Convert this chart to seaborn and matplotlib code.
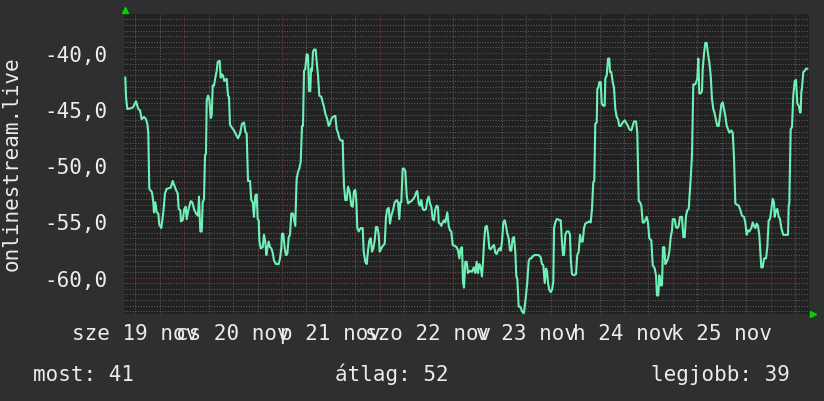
import matplotlib
matplotlib.use("Agg")
import matplotlib.pyplot as plt
import matplotlib.dates as mdates
import matplotlib.ticker as mticker
import matplotlib.transforms as mtransforms
import numpy as np
import pandas as pd
import seaborn as sns

# ---------------- data (hours since start, value) ----------------
start_time = pd.Timestamp("2025-11-19 09:11")
span_hours = 168.27

seg_a = [(0.32, -42.2), (0.49, -43.9), (0.81, -45.0), (1.89, -44.9), (2.28, -44.8),
         (2.95, -44.3), (3.51, -45.0), (3.93, -45.1), (4.35, -45.9), (4.91, -45.7),
         (5.40, -45.9), (5.72, -46.3), (5.97, -47.1), (6.21, -52.1), (6.88, -52.4),
         (7.20, -53.3), (7.37, -54.2), (7.69, -53.3), (8.03, -54.2), (8.43, -54.3),
         (8.67, -55.3), (9.16, -55.6), (9.65, -54.2), (10.07, -52.5), (10.49, -52.1),
         (11.47, -52.0), (11.96, -51.4), (12.36, -51.8), (12.77, -52.2), (13.19, -52.5),
         (13.44, -53.9), (13.83, -54.0), (14.00, -55.0), (14.42, -54.9), (14.81, -53.9),
         (15.16, -53.7), (15.40, -54.8), (15.80, -54.0), (16.38, -53.2), (16.78, -53.3),
         (17.20, -53.9), (17.69, -54.3), (18.18, -54.5), (18.42, -52.8), (18.74, -55.9),
         (19.09, -55.9), (19.33, -53.3), (19.65, -53.0), (19.90, -49.1), (20.14, -49.0),
         (20.32, -44.2), (20.63, -43.8), (20.95, -44.1), (21.30, -45.8), (21.54, -45.6),
         (21.79, -42.9), (22.11, -42.9), (22.43, -42.2), (22.77, -41.6), (23.02, -40.8),
         (23.51, -40.7), (23.75, -42.2), (24.00, -41.9), (24.32, -42.0), (24.64, -42.5),
         (25.23, -42.3), (25.55, -43.8), (25.79, -43.9), (26.04, -46.4), (26.60, -46.7)]

seg_b = [(27.02, -46.9), (27.44, -47.2), (28.00, -47.6), (28.50, -47.2), (28.99, -46.3),
         (29.48, -46.2), (29.80, -47.0), (30.14, -47.2), (30.46, -51.4), (30.95, -51.4),
         (31.27, -53.1), (31.61, -53.3), (31.93, -54.6), (32.25, -52.7), (32.60, -52.6),
         (32.84, -54.8), (33.09, -54.9), (33.24, -56.7), (33.58, -57.4), (34.07, -57.3),
         (34.39, -56.2), (34.71, -56.8), (34.96, -58.0), (35.20, -57.4), (35.55, -56.8),
         (35.86, -57.3), (36.18, -57.4), (36.53, -57.8), (36.85, -58.5), (37.34, -58.8),
         (38.00, -58.8), (38.32, -58.3), (38.64, -57.4), (38.81, -56.1), (39.13, -56.1),
         (39.48, -57.4), (39.80, -58.0), (40.12, -57.9), (40.46, -56.4), (40.78, -56.2),
         (41.10, -54.3), (41.51, -54.3), (41.76, -54.8), (42.08, -55.4), (42.25, -53.0),
         (42.42, -51.2), (42.74, -50.6), (43.06, -50.3), (43.41, -49.7), (43.73, -46.5),
         (43.97, -46.5), (44.22, -41.6), (44.54, -41.4), (44.88, -40.1), (45.20, -40.2),
         (45.45, -43.4), (45.76, -43.4), (45.94, -41.4), (46.18, -41.6), (46.43, -39.9),
         (46.67, -39.7), (47.09, -39.7), (47.34, -40.8), (47.66, -42.0), (47.98, -43.8),
         (48.47, -43.9), (48.81, -44.4), (49.13, -44.8), (49.45, -45.4), (49.94, -45.9),
         (50.28, -46.5), (50.60, -46.3), (50.92, -45.9), (51.27, -45.7), (51.91, -45.6),
         (52.25, -46.8), (52.57, -47.1), (52.89, -47.6), (53.23, -47.8), (53.72, -47.8),
         (53.87, -50.0), (54.04, -51.8), (54.36, -53.1), (54.71, -53.1)]

seg_c = [(55.03, -51.9), (55.44, -52.4), (55.84, -53.6), (56.18, -53.7), (56.50, -52.3),
         (56.82, -52.2), (57.06, -53.1), (57.31, -55.6), (57.65, -55.9), (58.14, -55.6),
         (58.64, -55.6), (58.88, -57.7), (59.28, -58.6), (59.62, -58.8), (59.94, -57.6),
         (60.26, -56.7), (60.60, -56.5), (60.92, -57.7), (61.24, -57.4), (61.58, -56.7),
         (61.90, -55.5), (62.22, -55.5), (62.57, -56.2), (62.81, -57.7), (63.21, -57.4),
         (63.55, -57.2), (64.04, -57.0), (64.36, -54.6), (64.68, -53.9), (65.02, -53.8),
         (65.34, -55.2), (65.66, -54.5), (66.08, -54.0), (66.50, -53.3), (66.99, -53.1),
         (67.31, -53.3), (67.63, -54.8), (67.87, -53.3), (68.12, -53.3), (68.46, -50.3),
         (68.78, -50.3), (69.10, -50.5), (69.45, -52.7), (69.77, -53.4), (70.08, -53.3),
         (70.58, -53.2), (71.07, -53.0), (71.41, -52.8), (71.80, -52.4), (72.05, -52.3),
         (72.39, -53.4), (72.71, -53.6), (73.03, -53.1), (73.38, -53.9), (73.70, -54.0),
         (74.19, -53.9), (74.51, -53.1), (74.85, -52.8), (75.17, -53.4), (75.49, -53.7),
         (75.83, -54.8), (76.15, -54.9), (76.47, -53.9), (76.81, -53.6), (77.13, -53.7),
         (77.31, -55.1), (77.63, -55.2), (77.94, -55.4), (78.29, -55.1), (78.61, -54.9),
         (78.93, -55.1), (79.42, -54.2), (79.76, -55.4), (80.08, -55.8), (80.40, -55.9),
         (80.74, -57.1), (81.24, -57.2), (81.73, -57.3), (82.05, -57.6), (82.37, -58.3),
         (82.71, -57.4), (83.03, -57.3)]

seg_d = [(83.28, -60.4), (83.52, -60.9), (83.84, -58.6), (84.18, -58.6), (84.50, -59.6),
         (84.99, -59.4), (85.49, -59.5), (85.90, -59.1), (86.30, -59.6), (86.64, -58.6),
         (86.96, -59.6), (87.28, -58.8), (87.62, -59.1), (87.94, -59.9), (88.19, -58.6),
         (88.43, -57.0), (88.75, -55.5), (89.10, -55.4), (89.42, -56.1), (89.74, -57.4),
         (90.08, -57.5), (90.40, -57.3), (90.89, -57.1), (91.21, -57.8), (91.55, -57.9),
         (91.87, -57.6), (92.19, -57.4), (92.54, -57.6), (92.86, -56.8), (93.18, -55.1),
         (93.52, -54.9), (93.84, -55.4), (94.16, -56.1), (94.50, -56.5), (94.82, -57.6),
         (95.14, -57.6), (95.48, -56.5), (95.80, -56.4), (96.12, -57.7), (96.37, -59.9),
         (96.61, -60.1), (96.96, -62.6), (97.35, -62.6), (97.77, -63.0), (98.19, -63.2),
         (98.43, -62.6), (98.75, -61.6), (99.07, -60.4), (99.42, -58.5), (99.73, -58.3),
         (100.05, -58.3), (100.40, -58.1), (100.89, -58.0), (101.38, -58.0), (101.87, -58.0),
         (102.36, -58.2), (102.68, -58.8), (103.00, -58.9), (103.35, -60.5), (103.66, -59.2),
         (103.91, -59.4), (104.16, -60.5), (104.48, -61.1), (104.82, -61.3), (105.14, -61.1),
         (105.46, -60.4), (105.63, -55.6), (105.95, -55.1), (106.29, -54.8), (106.61, -54.8),
         (106.93, -54.9), (107.28, -54.9), (107.59, -56.8), (107.84, -58.0), (108.09, -58.0),
         (108.41, -56.2), (108.75, -55.9), (109.24, -55.9), (109.56, -56.2), (109.74, -58.3),
         (110.05, -59.7), (110.54, -59.8), (111.03, -59.7)]

seg_e = [(111.35, -58.0), (111.70, -57.7), (112.02, -56.2), (112.34, -56.8), (112.68, -56.8),
         (113.00, -55.6), (113.32, -55.2), (113.81, -55.1), (114.30, -55.0), (114.64, -55.1),
         (114.96, -53.9), (115.28, -51.5), (115.53, -51.4), (115.77, -46.3), (116.12, -46.2),
         (116.27, -43.2), (116.51, -43.1), (116.76, -42.6), (117.10, -42.6), (117.35, -44.5),
         (117.74, -44.7), (118.08, -44.7), (118.23, -42.3), (118.58, -42.0), (118.90, -40.5),
         (119.22, -40.5), (119.39, -41.7), (119.71, -41.7), (120.05, -42.6), (120.37, -43.1),
         (120.69, -45.0), (121.03, -45.7), (121.35, -45.9), (121.67, -46.5), (122.01, -46.5),
         (122.51, -46.2), (123.00, -46.0), (123.32, -46.2), (123.81, -46.5), (124.13, -46.8),
         (124.62, -46.9), (124.96, -46.5), (125.28, -46.1), (125.78, -46.1), (126.09, -47.1),
         (126.44, -53.2), (126.76, -53.3), (127.08, -53.6), (127.42, -55.1), (127.74, -55.1),
         (128.06, -54.9), (128.40, -54.6), (128.72, -55.1), (129.04, -56.5), (129.53, -56.7),
         (129.88, -58.9), (130.37, -59.2), (130.69, -59.8), (130.93, -61.6), (131.25, -61.6),
         (131.50, -59.8), (131.84, -60.7), (132.16, -60.7), (132.41, -57.3), (132.73, -57.3),
         (132.98, -58.8), (133.32, -58.6), (133.64, -58.3), (133.96, -57.7), (134.30, -56.4),
         (134.62, -55.8), (134.79, -54.8), (135.28, -54.8), (135.60, -55.5), (135.92, -55.6),
         (136.26, -55.4), (136.58, -54.6), (137.07, -54.6), (137.39, -56.4), (137.74, -56.4),
         (138.06, -54.5), (138.38, -54.0), (138.72, -53.9)]

seg_f = [(139.21, -51.2), (139.53, -49.1), (139.85, -42.8), (140.34, -42.8), (140.83, -42.3),
         (141.08, -40.5), (141.32, -43.6), (141.67, -43.6), (141.99, -43.4), (142.16, -41.4),
         (142.48, -40.1), (142.80, -39.1), (143.14, -39.1), (143.46, -40.1), (143.78, -40.8),
         (144.12, -42.0), (144.44, -44.1), (144.76, -45.0), (145.11, -45.4), (145.43, -46.0),
         (145.75, -46.5), (146.09, -46.5), (146.41, -45.6), (146.73, -44.6), (147.07, -44.4),
         (147.39, -45.0), (147.71, -45.6), (148.06, -46.5), (148.38, -46.8), (148.70, -47.1),
         (149.19, -46.9), (149.53, -47.1), (149.85, -49.3), (150.17, -53.4), (150.51, -53.5),
         (151.01, -53.6), (151.32, -53.9), (151.81, -54.5), (152.30, -54.6), (152.62, -55.1),
         (152.97, -56.2), (153.29, -55.8), (153.61, -55.9), (154.10, -55.6), (154.44, -55.1),
         (154.76, -55.4), (155.08, -55.6), (155.42, -55.2), (155.74, -55.4), (156.06, -56.2),
         (156.41, -58.3), (156.55, -59.1), (156.90, -59.1), (157.22, -58.3), (157.71, -58.3),
         (158.03, -57.3), (158.37, -54.9), (158.69, -54.8), (159.01, -54.0), (159.35, -53.0),
         (159.67, -53.3), (159.84, -54.6), (160.16, -54.0), (160.49, -53.9), (160.83, -54.6),
         (161.15, -54.8), (161.47, -55.6), (161.96, -56.2), (162.62, -56.2), (163.11, -56.2),
         (163.28, -53.6), (163.43, -53.4), (163.77, -46.8), (164.09, -46.6), (164.41, -43.8),
         (164.76, -42.5), (165.08, -42.4), (165.40, -44.5), (165.74, -44.7), (166.06, -45.3),
         (166.23, -45.3), (166.38, -43.5), (166.55, -43.1), (166.87, -41.7), (167.21, -41.6),
         (167.53, -41.4), (167.85, -41.4)]

y_ticks = [-60, -55, -50, -45, -40]
y_limits = (-63.25, -36.53)
day_names = ["h", "k", "sze", "cs", "p", "szo", "v"]   # Monday..Sunday
month_name = "nov"
series_name = "onlinestream.live"
stats_labels = ["most: 41", "átlag: 52", "legjobb: 39"]

# ---------------- build frame ----------------
samples = seg_a + seg_b + seg_c + seg_d + seg_e + seg_f
hours = np.array([s[0] for s in samples])
values = np.array([s[1] for s in samples])
df = pd.DataFrame({"time": start_time + pd.to_timedelta(hours, unit="h"),
                   "value": values})

# ---------------- style ----------------
BG = "#2f2f2f"
PLOT_BG = "#222222"
TXT = "#ececec"
LINE = "#6ff0b6"
MINOR = "#5e5e5e"
MAJOR = "#7e3838"
FONT = "DejaVu Sans Mono"
FS = 15

plt.rcParams["font.family"] = [FONT, "DejaVu Sans"]

W, H = 824, 402
fig = plt.figure(figsize=(W / 100, H / 100), dpi=100, facecolor=BG)
ax = fig.add_axes([124 / W, 1 - 315 / H, (809 - 124) / W, (315 - 15) / H])
ax.set_facecolor(PLOT_BG)

sns.lineplot(data=df, x="time", y="value", ax=ax, color=LINE, linewidth=1.5,
             estimator=None, sort=False, zorder=5)

ax.set_xlim(start_time, start_time + pd.Timedelta(hours=span_hours))
ax.set_ylim(*y_limits)

# y axis
ax.yaxis.set_major_locator(mticker.FixedLocator(y_ticks))
ax.yaxis.set_minor_locator(mticker.MultipleLocator(0.5))
ax.yaxis.set_major_formatter(mticker.FuncFormatter(lambda v, p: f"{v:.1f}".replace(".", ",")))

# x axis: major at midnight (red grid, no label), minor every 6h (grey grid), labels at noon
ax.xaxis.set_major_locator(mdates.HourLocator(byhour=[0]))
ax.xaxis.set_minor_locator(mdates.HourLocator(byhour=[0, 6, 12, 18]))
ax.xaxis.set_major_formatter(mticker.NullFormatter())


def noon_label(x, pos):
    d = mdates.num2date(x)
    if d.hour == 12:
        return f"{day_names[d.weekday()]} {d.day} {month_name}"
    return ""


ax.xaxis.set_minor_formatter(mticker.FuncFormatter(noon_label))

dots = (0, (1, 1.6))
ax.grid(which="minor", color=MINOR, linewidth=0.75, linestyle=dots, zorder=1)
ax.grid(which="major", color=MAJOR, linewidth=0.75, linestyle=dots, zorder=2)
ax.set_axisbelow(True)

ax.tick_params(axis="y", which="both", length=0, pad=12.2, labelsize=FS, labelcolor=TXT)
ax.tick_params(axis="x", which="both", length=0, pad=6.2, labelsize=FS, labelcolor=TXT)
for lab in ax.get_yticklabels() + ax.get_xticklabels(minor=True):
    lab.set_fontfamily(FONT)

ax.set_xlabel("")
ax.set_ylabel("")
for sp in ax.spines.values():
    sp.set_visible(False)

# y label
fig.text(2 / W, 1 - 164 / H, series_name, rotation=90, ha="left", va="center",
         fontsize=FS, color=TXT, family=FONT)

# arrows
GREEN = "#00d400"
up_tr = mtransforms.offset_copy(ax.transAxes, fig=fig, x=1, y=4, units="dots")
ax.plot([0], [1], marker="^", color=GREEN, markersize=5, transform=up_tr, clip_on=False, zorder=10)
right_tr = mtransforms.offset_copy(ax.transAxes, fig=fig, x=4, y=0.5, units="dots")
ax.plot([1], [0], marker=">", color=GREEN, markersize=5, transform=right_tr, clip_on=False, zorder=10)

# bottom stats
for txt, xp in zip(stats_labels, [33, 335, 651]):
    fig.text(xp / W, 1 - 381.5 / H, txt, ha="left", va="baseline", fontsize=FS,
             color=TXT, family=FONT)

fig.savefig("out.png", dpi=100, facecolor=BG)
